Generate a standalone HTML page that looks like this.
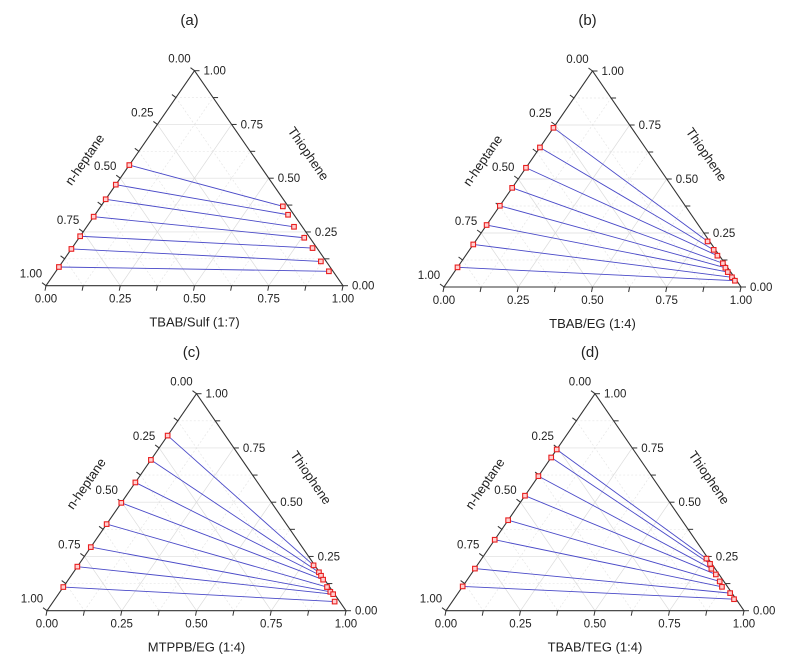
<!DOCTYPE html>
<html><head><meta charset="utf-8">
<style>
body{margin:0;background:#fff;}
svg{display:block;font-family:"Liberation Sans",sans-serif;}
</style></head>
<body>
<svg id="fig" width="790" height="660" viewBox="0 0 790 660"></svg>
<script>
// Panel (a) TBAB/Sulf (1:7)
const aRafT=[0.561,0.470,0.402,0.321,0.230,0.171,0.087];
const aExtT=[0.369,0.330,0.274,0.223,0.175,0.113,0.067];
const aExtS=[0.613,0.650,0.698,0.758,0.810,0.869,0.919];
// Panel (b) TBAB/EG (1:4)
const bRafT=[0.737,0.646,0.552,0.459,0.376,0.287,0.197,0.091];
const bExtT=[0.211,0.172,0.145,0.110,0.089,0.069,0.045,0.029];
const bExtS=[0.782,0.822,0.848,0.884,0.903,0.921,0.947,0.965];
// Panel (c) MTPPB/EG (1:4)
const cRafT=[0.807,0.695,0.591,0.497,0.399,0.293,0.203,0.109];
const cExtT=[0.209,0.177,0.161,0.143,0.109,0.087,0.076,0.042];
const cExtS=[0.787,0.821,0.836,0.852,0.882,0.904,0.919,0.941];
// Panel (d) TBAB/TEG (1:4)
const dRafT=[0.743,0.706,0.620,0.530,0.417,0.327,0.194,0.112];
const dExtT=[0.240,0.216,0.193,0.167,0.135,0.110,0.081,0.053];
const dExtS=[0.754,0.778,0.794,0.822,0.851,0.871,0.913,0.940];
const tickLabels=["0.00","0.25","0.50","0.75","1.00"];

const NS="http://www.w3.org/2000/svg";
const svg=document.getElementById('fig');
function mk(tag,attrs,parent){const e=document.createElementNS(NS,tag);for(const k in attrs)e.setAttribute(k,attrs[k]);(parent||svg).appendChild(e);return e;}

function panel(id,letter,title,x0,yb,w,h,letterY,rafT,extT,extS){
  const g=mk('g',{});
  
  
  const BL=[x0,yb],BR=[x0+w,yb],TP=[x0+w/2,yb-h];
  function P(s,t){const hh=1-s-t;return [BL[0]*hh+BR[0]*s+TP[0]*t, BL[1]*hh+BR[1]*s+TP[1]*t];}
  for(let i=1;i<8;i++){
    const f=i/8, major=(i%2===0);
    const st={stroke:major?'#dcdcdc':'#e6e6e6','stroke-width':0.7,fill:'none'};
    if(!major) st['stroke-dasharray']='2,2';
    let a=P(f,0),b=P(f,1-f); let l=mk('line',Object.assign({x1:a[0],y1:a[1],x2:b[0],y2:b[1]},st),g);
    
    a=P(0,f);b=P(1-f,f); l=mk('line',Object.assign({x1:a[0],y1:a[1],x2:b[0],y2:b[1]},st),g);
    
    a=P(0,1-f);b=P(1-f,0); l=mk('line',Object.assign({x1:a[0],y1:a[1],x2:b[0],y2:b[1]},st),g);
    
  }
  const fr=mk('polygon',{points:BL.join(',')+' '+BR.join(',')+' '+TP.join(','),fill:'none',stroke:'#333','stroke-width':1.1},g);
  
  for(let i=0;i<=8;i++){
    const f=i/8;
    let a=P(f,0); let t=mk('line',{x1:a[0],y1:a[1],x2:a[0]-1,y2:a[1]+5,stroke:'#333','stroke-width':1},g);
    
    a=P(1-f,f); t=mk('line',{x1:a[0],y1:a[1],x2:a[0]+5,y2:a[1],stroke:'#333','stroke-width':1},g);
    
    a=P(0,1-f); t=mk('line',{x1:a[0],y1:a[1],x2:a[0]-4,y2:a[1]-3,stroke:'#333','stroke-width':1},g);
    
  }
  for(let i=0;i<5;i++){
    const f=i/4;
    let a=P(f,0);
    let tx=mk('text',{x:a[0],y:a[1]+17,'text-anchor':'middle','font-size':11.5,fill:'#222'},g);
    tx.textContent=tickLabels[i];
    a=P(1-f,f);
    tx=mk('text',{x:a[0]+9,y:a[1]+4,'text-anchor':'start','font-size':11.5,fill:'#222'},g);
    tx.textContent=tickLabels[i];
    a=P(0,1-f);
    tx=mk('text',{x:a[0]-15,y:a[1]-8,'text-anchor':'middle','font-size':11.5,fill:'#222'},g);
    tx.textContent=tickLabels[i];
  }
  const ang=Math.atan2(h,w/2)*180/Math.PI;
  let m=P(0,0.5); let lx=m[0]-32, ly=m[1]-16;
  let tt=mk('text',{x:lx,y:ly,'text-anchor':'middle','font-size':13,fill:'#222',transform:`rotate(${-ang} ${lx} ${ly})`},g);
  tt.textContent='n-heptane';
  m=P(0.5,0.5); lx=m[0]+36; ly=m[1]-22;
  tt=mk('text',{x:lx,y:ly,'text-anchor':'middle','font-size':13,fill:'#222',transform:`rotate(${ang} ${lx} ${ly})`},g);
  tt.textContent='Thiophene';
  tt=mk('text',{x:x0+w/2,y:yb+41,'text-anchor':'middle','font-size':13,fill:'#222'},g);
  tt.textContent=title;
  tt=mk('text',{x:x0+w/2-5,y:letterY,'text-anchor':'middle','font-size':15,fill:'#222'},g);
  tt.textContent=letter;
  for(let i=0;i<rafT.length;i++){
    const a=P(0,rafT[i]), b=P(extS[i],extT[i]);
    const l=mk('line',{x1:a[0],y1:a[1],x2:b[0],y2:b[1],stroke:'#4a4ac8','stroke-width':0.9},g);
    
  }
  for(let i=0;i<rafT.length;i++){
    const a=P(0,rafT[i]), b=P(extS[i],extT[i]);
    let r=mk('rect',{x:a[0]-2.3,y:a[1]-2.3,width:4.6,height:4.6,fill:'#ffd0d0',stroke:'#e82020','stroke-width':1.1},g);
    
    r=mk('rect',{x:b[0]-2.3,y:b[1]-2.3,width:4.6,height:4.6,fill:'#ffd0d0',stroke:'#e82020','stroke-width':1.1},g);
    
  }
}
panel('a','(a)','TBAB/Sulf (1:7)',46,285.7,297,215,25,aRafT,aExtT,aExtS);
panel('b','(b)','TBAB/EG (1:4)',444,287,297,216,25,bRafT,bExtT,bExtS);
panel('c','(c)','MTPPB/EG (1:4)',47,610.7,299,217,357,cRafT,cExtT,cExtS);
panel('d','(d)','TBAB/TEG (1:4)',446,610.7,298,217,357,dRafT,dExtT,dExtS);
</script>
</body></html>
